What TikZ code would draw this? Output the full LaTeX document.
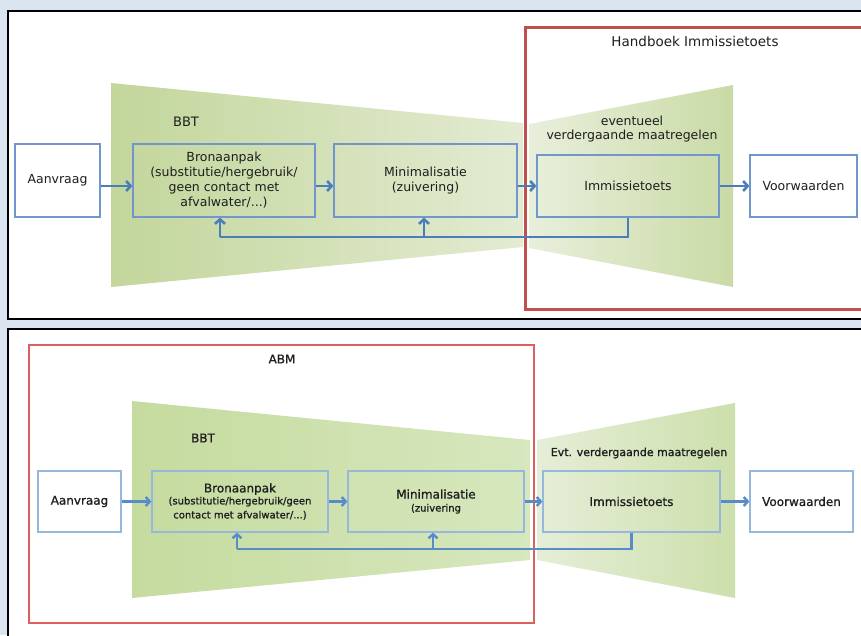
\documentclass[tikz,border=0pt]{standalone}
\usepackage{fontspec}
\setmainfont{DejaVu Sans}
\newfontfamily\medfont[FakeBold=1]{DejaVu Sans}
\usetikzlibrary{arrows.meta}
\definecolor{bgblue}{RGB}{219,229,241}
\definecolor{redA}{RGB}{192,80,77}
\definecolor{redB}{RGB}{220,96,96}
\definecolor{lineblue}{RGB}{74,126,187}
\definecolor{lineblueB}{RGB}{88,140,200}
\definecolor{boxblue}{RGB}{112,150,205}
\definecolor{boxblueB}{RGB}{150,184,220}
\definecolor{gDark}{RGB}{195,214,155}
\definecolor{gLight}{RGB}{227,235,210}
\definecolor{gDarkB}{RGB}{197,219,158}
\definecolor{gMidB}{RGB}{215,231,190}
\definecolor{gLightB}{RGB}{229,238,215}
\definecolor{gRightB}{RGB}{205,223,172}
\definecolor{txt}{RGB}{30,30,30}
\newcommand{\smallf}{\fontsize{10}{12}\selectfont}
\tikzset{
  panel/.style={draw=black, line width=2pt, fill=white},
  boxA/.style={draw=boxblue, line width=1.2pt, inner sep=0pt, align=center, text=txt, font=\fontsize{12.5}{15}\selectfont},
  boxB/.style={draw=boxblueB, line width=1.3pt, inner sep=0pt, align=center, text=txt, font=\medfont\fontsize{12}{14}\selectfont},
  arrA/.style={draw=lineblue, line width=2.6pt, -{Straight Barb[length=4.5pt,width=10pt]}},
  lnA/.style={draw=lineblue, line width=2.6pt},
  arrB/.style={draw=lineblueB, line width=2.4pt, -{Straight Barb[length=4pt,width=9pt]}},
  lnB/.style={draw=lineblueB, line width=2.4pt},
  lbl/.style={text=txt, inner sep=0pt, align=center}
}
\begin{document}
\begin{tikzpicture}[x=1pt,y=-1pt]
\useasboundingbox (0,0) rectangle (861,635);
\clip (0,0) rectangle (861,635);
\fill[bgblue] (0,0) rectangle (861,635);
% ===== top panel =====
\draw[panel] (8,11) rectangle (880,319);
\shade[left color=gDark, right color=gLight] (111,83) -- (523,123) -- (523,247) -- (111,287) -- cycle;
\shade[left color=gLight!80!white, right color=gDark!80!gLight] (529,124) -- (733,85) -- (733,287) -- (529,248) -- cycle;
\draw[redA, line width=3pt] (525,27) rectangle (880,309);
\node[lbl, font=\fontsize{13.5}{16}\selectfont] (hbt) at (695,41) {Handboek Immissietoets};
\node[lbl, font=\fontsize{13}{16}\selectfont] (bbt1) at (186,122) {BBT};
\node[lbl, font=\fontsize{12.5}{14.5}\selectfont] (ev1) at (632,129) {eventueel\\verdergaande maatregelen};
\node[boxA, fill=white, minimum width=85pt, minimum height=73pt] (aan1) at (57.5,180.5) {Aanvraag};
\node[boxA, minimum width=182pt, minimum height=73pt] (bron1) at (224,180.5) {Bronaanpak\\(substitutie/hergebruik/\\geen contact met\\afvalwater/...)};
\node[boxA, minimum width=183pt, minimum height=73pt] (mini1) at (425.5,180.5) {Minimalisatie\\(zuivering)};
\node[boxA, minimum width=182pt, minimum height=62pt] (imm1) at (628,186) {Immissietoets};
\node[boxA, fill=white, minimum width=107pt, minimum height=62pt] (voor1) at (803.5,186) {Voorwaarden};
\draw[arrA] (aan1.east |- imm1.center) -- (bron1.west |- imm1.center);
\draw[arrA] (bron1.east |- imm1.center) -- (mini1.west |- imm1.center);
\draw[arrA] (mini1.east |- imm1.center) -- (imm1.west);
\draw[arrA] (imm1.east) -- (voor1.west);
\coordinate (fbL1) at (220,237);
\coordinate (fbM1) at (424,237);
\draw[lnA] (imm1.south) |- (fbL1);
\draw[arrA] (fbL1) -- (fbL1 |- bron1.south);
\draw[arrA] (fbM1) -- (fbM1 |- mini1.south);
% ===== bottom panel =====
\draw[panel] (8,329) rectangle (880,660);
\shade[left color=gDarkB, right color=gMidB] (132,401) -- (530,440) -- (530,560) -- (132,598) -- cycle;
\shade[left color=gLightB, right color=gRightB] (537,440) -- (735,403) -- (735,598) -- (537,560) -- cycle;
\draw[redB, line width=2pt] (29,345) rectangle (534,623);
\node[lbl, font=\medfont\fontsize{12}{14}\selectfont] (abm) at (282,359) {ABM};
\node[lbl, font=\medfont\fontsize{12}{14}\selectfont] (bbt2) at (203,438) {BBT};
\node[lbl, font=\medfont\fontsize{11}{13}\selectfont] (ev2) at (639,453) {Evt. verdergaande maatregelen};
\node[boxB, fill=white, minimum width=83pt, minimum height=61pt] (aan2) at (79.5,501.5) {Aanvraag};
\node[boxB, minimum width=176pt, minimum height=61pt] (bron2) at (240,501.5) {Bronaanpak\\[-2pt]\smallf (substitutie/hergebruik/geen\\\smallf contact met afvalwater/...)};
\node[boxB, minimum width=176pt, minimum height=61pt] (mini2) at (436,501.5) {Minimalisatie\\[-1pt]\smallf (zuivering};
\node[boxB, minimum width=177pt, minimum height=61pt] (imm2) at (631.5,501.5) {Immissietoets};
\node[boxB, fill=white, minimum width=103pt, minimum height=61pt] (voor2) at (801.5,501.5) {Voorwaarden};
\draw[arrB] (aan2.east) -- (bron2.west);
\draw[arrB] (bron2.east) -- (mini2.west);
\draw[arrB] (mini2.east) -- (imm2.west);
\draw[arrB] (imm2.east) -- (voor2.west);
\coordinate (fbL2) at (237,549);
\coordinate (fbM2) at (433,549);
\draw[lnB] (imm2.south) |- (fbL2);
\draw[arrB] (fbL2) -- (fbL2 |- bron2.south);
\draw[arrB] (fbM2) -- (fbM2 |- mini2.south);
\end{tikzpicture}
\end{document}
